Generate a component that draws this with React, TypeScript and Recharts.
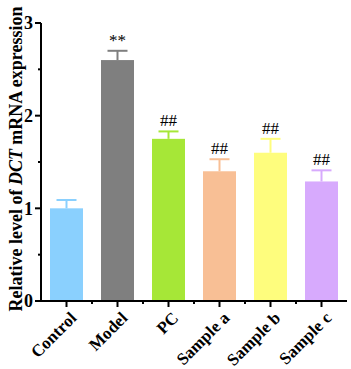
import { BarChart, Bar, XAxis, YAxis } from "recharts";

const categories = ["Control", "Model", "PC", "Sample a", "Sample b", "Sample c"];
const means = [1.0, 2.6, 1.75, 1.4, 1.6, 1.29];
const errors = [0.09, 0.1, 0.08, 0.13, 0.15, 0.12];
const marks = ["", "**", "##", "##", "##", "##"];
const colors = ["#8AD0FE", "#7F7F7F", "#A6E737", "#F8BF95", "#FEFD7D", "#D7AAFD"];
const yTicks = [0, 0.5, 1, 1.5, 2, 2.5, 3];

const data = categories.map((name, i) => ({
  name,
  value: means[i],
  err: errors[i],
  mark: marks[i],
  color: colors[i],
}));

const W = 351;
const H = 369;
const M = { top: 23, right: 4, left: 0, bottom: 0 };
const Y_W = 41;
const serif = "'Liberation Serif', 'Times New Roman', serif";

function BarWithError(props: any) {
  const { x, y, width, height, payload } = props;
  const unit = height / payload.value;
  const top = y - payload.err * unit;
  const cx = x + width / 2;
  return (
    <g>
      <rect x={x} y={y} width={width} height={height} fill={payload.color} />
      <line x1={cx} x2={cx} y1={y} y2={top} stroke={payload.color} strokeWidth={2} />
      <line x1={cx - 10} x2={cx + 10} y1={top} y2={top} stroke={payload.color} strokeWidth={2} />
      {payload.mark && (
        <text x={cx} y={top - 5} textAnchor="middle" fontFamily={serif} fontSize={17} fill="#000">
          {payload.mark}
        </text>
      )}
    </g>
  );
}

function YTick(props: any) {
  const { x, y, payload } = props;
  const major = Number.isInteger(payload.value);
  return (
    <g>
      <line x1={x - (major ? 6 : 3)} x2={x} y1={y} y2={y} stroke="#000" strokeWidth={2} />
      {major && (
        <text x={x - 8} y={y} dy="0.35em" textAnchor="end" fontFamily={serif} fontWeight="bold" fontSize={18} fill="#000">
          {payload.value}
        </text>
      )}
    </g>
  );
}

function XTick(props: any) {
  const { x, y, payload, index } = props;
  // band edges get a short minor tick, like the original
  const half = (W - M.right - M.left - Y_W) / categories.length / 2;
  const axisY = y - 8;
  const ax = x + 11;
  const ay = y + 10;
  return (
    <g>
      {index < categories.length - 1 && (
        <line x1={x + half} x2={x + half} y1={axisY} y2={axisY + 3} stroke="#000" strokeWidth={2} />
      )}
      <text
        x={ax}
        y={ay}
        textAnchor="end"
        transform={`rotate(-45, ${ax}, ${ay})`}
        fontFamily={serif}
        fontWeight="bold"
        fontSize={17}
        fill="#000"
      >
        {payload.value}
      </text>
    </g>
  );
}

function YLabel() {
  const cx = 22;
  const cy = 159;
  return (
    <text
      x={cx}
      y={cy}
      textAnchor="middle"
      transform={`rotate(-90, ${cx}, ${cy})`}
      fontFamily={serif}
      fontWeight="bold"
      fontSize={18}
      fill="#000"
    >
      Relative level of <tspan fontStyle="italic">DCT</tspan> mRNA expression
    </text>
  );
}

export default function App() {
  return (
    <div style={{ position: "absolute", left: 0, top: 0, background: "#fff" }}>
      <BarChart width={W} height={H} data={data} margin={M} barSize={33}>
        <XAxis
          dataKey="name"
          interval={0}
          height={68}
          tick={<XTick />}
          tickSize={6}
          tickMargin={2}
          axisLine={{ stroke: "#000", strokeWidth: 2 }}
          tickLine={{ stroke: "#000", strokeWidth: 2 }}
        />
        <YAxis
          width={Y_W}
          domain={[0, 3]}
          ticks={yTicks}
          interval={0}
          tick={<YTick />}
          tickLine={false}
          tickSize={0}
          tickMargin={0}
          axisLine={{ stroke: "#000", strokeWidth: 2 }}
          label={{ content: <YLabel /> }}
        />
        <Bar dataKey="value" shape={<BarWithError />} isAnimationActive={false} />
      </BarChart>
    </div>
  );
}
